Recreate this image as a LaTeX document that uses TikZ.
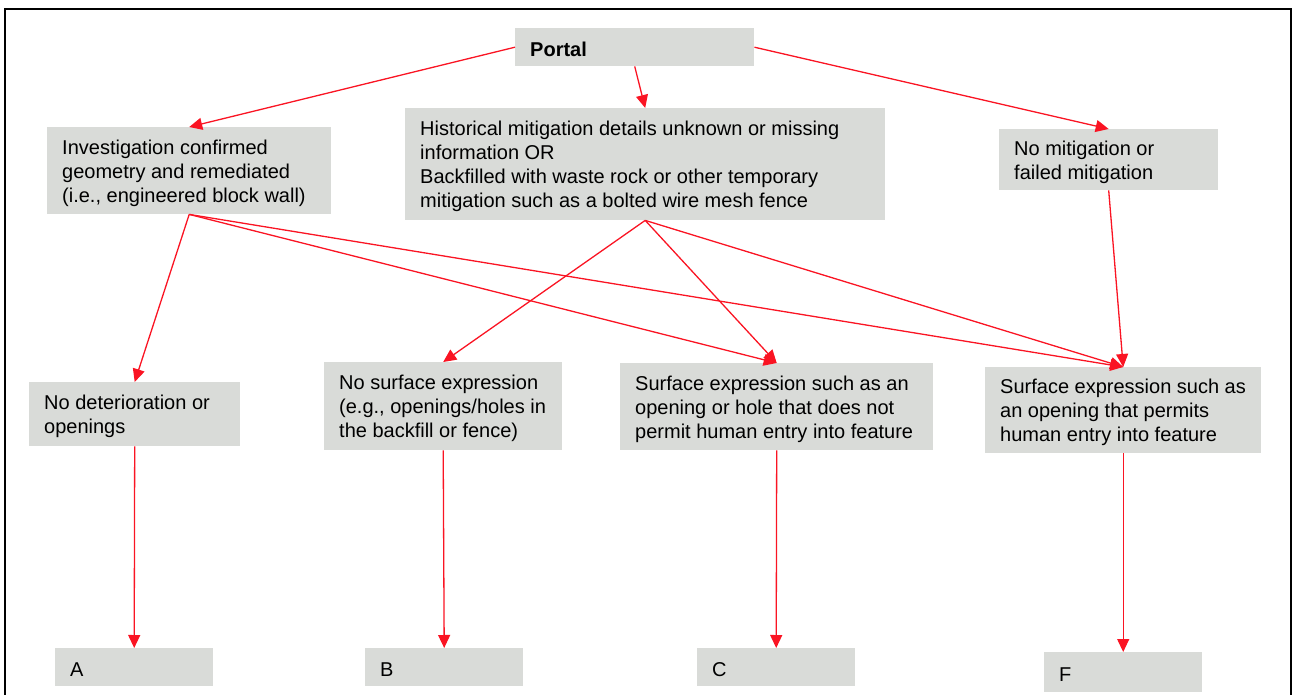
\documentclass[tikz,border=0pt]{standalone}
\usepackage{fontspec}
\setmainfont{Liberation Sans}
\usetikzlibrary{arrows.meta,calc}
\definecolor{boxgray}{RGB}{217,219,216}
\definecolor{arrred}{RGB}{250,20,35}
\tikzset{
  box/.style={fill=boxgray, draw=none, anchor=north west, inner sep=0pt},
  txt/.style={anchor=west, align=left, inner sep=0pt, yshift=-2.5pt, font=\fontsize{20}{24}\selectfont},
  arr/.style={draw=arrred, line width=1.3pt, -{Triangle[length=13pt,width=12pt]}}
}
\begin{document}
\begin{tikzpicture}[x=1pt,y=-1pt]
\path[use as bounding box] (0,0) rectangle (1296,695);
\clip (0,0) rectangle (1296,695);
\draw[line width=2pt] (5,9) rectangle (1291,710);
% boxes
\node[box, minimum width=239pt, minimum height=38pt] (portal) at (515,28) {};
\node[box, minimum width=284pt, minimum height=87pt] (inv) at (47,127) {};
\node[box, minimum width=480pt, minimum height=112pt] (hist) at (405,108) {};
\node[box, minimum width=219pt, minimum height=61pt] (nomit) at (999,129) {};
\node[box, minimum width=211pt, minimum height=64pt] (nodet) at (29,382) {};
\node[box, minimum width=238pt, minimum height=88pt] (nosurf) at (324,362) {};
\node[box, minimum width=313pt, minimum height=87pt] (surfc) at (620,363) {};
\node[box, minimum width=276pt, minimum height=86pt] (surff) at (985,367) {};
\node[box, minimum width=158pt, minimum height=38pt] (ra) at (55,648) {};
\node[box, minimum width=158pt, minimum height=38pt] (rb) at (365,648) {};
\node[box, minimum width=158pt, minimum height=38pt] (rc) at (697,648) {};
\node[box, minimum width=158pt, minimum height=40pt] (rf) at (1044,652) {};
% texts
\node[txt] (portalt) at ([xshift=15pt]portal.west) {\textbf{Portal}};
\node[txt] (invt) at ([xshift=15pt]inv.west) {Investigation confirmed\\geometry and remediated\\(i.e., engineered block wall)};
\node[txt] (histt) at ([xshift=15pt]hist.west) {Historical mitigation details unknown or missing\\information OR\\Backfilled with waste rock or other temporary\\mitigation such as a bolted wire mesh fence};
\node[txt] (nomitt) at ([xshift=15pt]nomit.west) {No mitigation or\\failed mitigation};
\node[txt] (nodett) at ([xshift=15pt]nodet.west) {No deterioration or\\openings};
\node[txt] (nosurft) at ([xshift=15pt]nosurf.west) {No surface expression\\(e.g., openings/holes in\\the backfill or fence)};
\node[txt] (surfct) at ([xshift=15pt]surfc.west) {Surface expression such as an\\opening or hole that does not\\permit human entry into feature};
\node[txt] (surfft) at ([xshift=15pt]surff.west) {Surface expression such as\\an opening that permits\\human entry into feature};
\node[txt] (rat) at ([xshift=15pt]ra.west) {A};
\node[txt] (rbt) at ([xshift=15pt]rb.west) {B};
\node[txt] (rct) at ([xshift=15pt]rc.west) {C};
\node[txt] (rft) at ([xshift=15pt]rf.west) {F};
% arrows
\draw[arr] (portal.west) -- (inv.north);
\draw[arr] (portal.south) -- (hist.north);
\draw[arr] (portal.east) -- (nomit.north);
\draw[arr] (inv.south) -- (nodet.north);
\draw[arr] (inv.south) -- (surfc.north);
\draw[arr] (inv.south) -- (surff.north);
\draw[arr] (hist.south) -- (nosurf.north);
\draw[arr] (hist.south) -- (surfc.north);
\draw[arr] (hist.south) -- (surff.north);
\draw[arr] (nomit.south) -- (surff.north);
\draw[arr] (nodet.south) -- (ra.north);
\draw[arr] (nosurf.south) -- (rb.north);
\draw[arr] (surfc.south) -- (rc.north);
\draw[arr] (surff.south) -- (rf.north);
\end{tikzpicture}
\end{document}
